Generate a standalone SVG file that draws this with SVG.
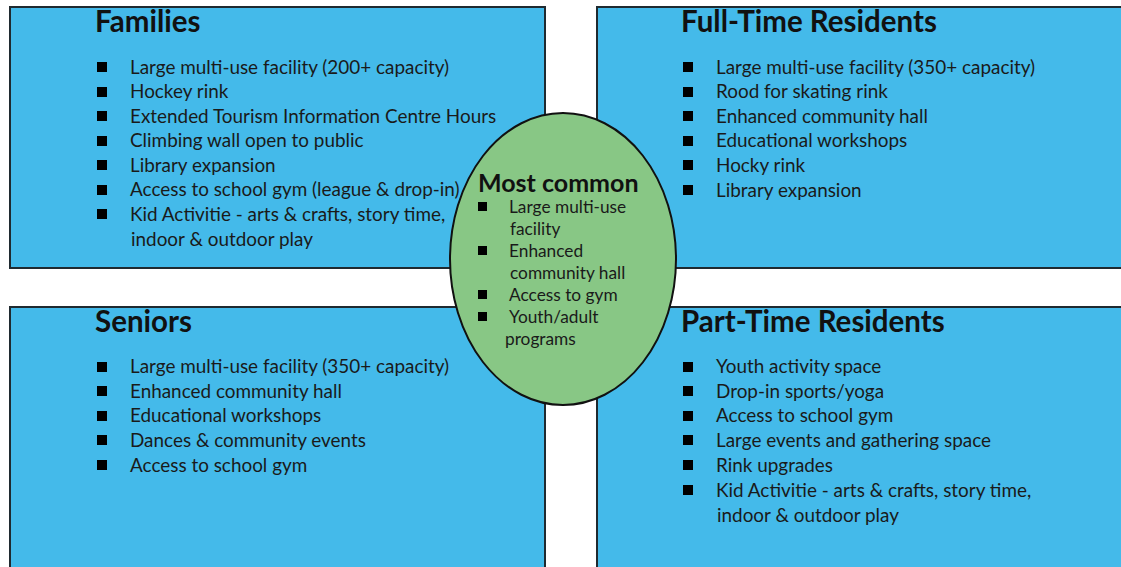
<svg xmlns="http://www.w3.org/2000/svg" width="1121" height="567" viewBox="0 0 1121 567">
<style>
.box{fill:#44BAEA;stroke:#1f2a30;stroke-width:2}
.ell{fill:#88C785;stroke:#111;stroke-width:2}
.t{font-family:Lato,"Liberation Sans",sans-serif;font-size:18.9px;fill:#1a1a1a}
.h{font-family:Lato,"Liberation Sans",sans-serif;font-size:29.5px;font-weight:bold;fill:#111}
.hs{font-family:Lato,"Liberation Sans",sans-serif;font-size:25px;font-weight:bold;fill:#111}
.ts{font-family:Lato,"Liberation Sans",sans-serif;font-size:17.3px;fill:#1a1a1a}
.b{fill:#000}
</style>
<rect width="1121" height="567" fill="#fff"/>
<g id="families">
<rect class="box" x="10" y="7" width="535" height="261"/>
<text class="h" x="95" y="32">Families</text>
<g class="b"><rect x="97" y="62" width="10" height="10"/><rect x="97" y="87" width="10" height="10"/><rect x="97" y="111" width="10" height="10"/><rect x="97" y="136" width="10" height="10"/><rect x="97" y="160" width="10" height="10"/><rect x="97" y="185" width="10" height="10"/><rect x="97" y="209" width="10" height="10"/></g>
<text class="t" x="130" y="74">Large multi-use facility (200+ capacity)</text>
<text class="t" x="130" y="98">Hockey rink</text>
<text class="t" x="130" y="123">Extended Tourism Information Centre Hours</text>
<text class="t" x="130" y="147">Climbing wall open to public</text>
<text class="t" x="130" y="172">Library expansion</text>
<text class="t" x="130" y="196">Access to school gym (league &amp; drop-in)</text>
<text class="t" x="130" y="221">Kid Activitie - arts &amp; crafts, story time,</text>
<text class="t" x="131" y="246">indoor &amp; outdoor play</text>
</g>
<g id="full-time">
<rect class="box" x="597" y="7" width="530" height="261"/>
<text class="h" x="681" y="32">Full-Time Residents</text>
<g class="b"><rect x="683" y="62" width="10" height="10"/><rect x="683" y="87" width="10" height="10"/><rect x="683" y="111" width="10" height="10"/><rect x="683" y="136" width="10" height="10"/><rect x="683" y="160" width="10" height="10"/><rect x="683" y="185" width="10" height="10"/></g>
<text class="t" x="716" y="74">Large multi-use facility (350+ capacity)</text>
<text class="t" x="716" y="98">Rood for skating rink</text>
<text class="t" x="716" y="123">Enhanced community hall</text>
<text class="t" x="716" y="147">Educational workshops</text>
<text class="t" x="716" y="172">Hocky rink</text>
<text class="t" x="716" y="197">Library expansion</text>
</g>
<g id="seniors">
<rect class="box" x="10" y="307" width="535" height="270"/>
<text class="h" x="95" y="332">Seniors</text>
<g class="b"><rect x="97" y="362" width="10" height="10"/><rect x="97" y="386" width="10" height="10"/><rect x="97" y="411" width="10" height="10"/><rect x="97" y="435" width="10" height="10"/><rect x="97" y="460" width="10" height="10"/></g>
<text class="t" x="130" y="373">Large multi-use facility (350+ capacity)</text>
<text class="t" x="130" y="398">Enhanced community hall</text>
<text class="t" x="130" y="422">Educational workshops</text>
<text class="t" x="130" y="447">Dances &amp; community events</text>
<text class="t" x="130" y="472">Access to school gym</text>
</g>
<g id="part-time">
<rect class="box" x="597" y="307" width="530" height="270"/>
<text class="h" x="681" y="332">Part-Time Residents</text>
<g class="b"><rect x="683" y="362" width="10" height="10"/><rect x="683" y="386" width="10" height="10"/><rect x="683" y="411" width="10" height="10"/><rect x="683" y="435" width="10" height="10"/><rect x="683" y="460" width="10" height="10"/><rect x="683" y="485" width="10" height="10"/></g>
<text class="t" x="716" y="373">Youth activity space</text>
<text class="t" x="716" y="398">Drop-in sports/yoga</text>
<text class="t" x="716" y="422">Access to school gym</text>
<text class="t" x="716" y="447">Large events and gathering space</text>
<text class="t" x="716" y="472">Rink upgrades</text>
<text class="t" x="716" y="497">Kid Activitie - arts &amp; crafts, story time,</text>
<text class="t" x="717" y="522">indoor &amp; outdoor play</text>
</g>
<g id="most-common">
<ellipse class="ell" cx="563" cy="259" rx="113" ry="146"/>
<text class="hs" x="478" y="192">Most common</text>
<g class="b"><rect x="478" y="202" width="9" height="9"/><rect x="478" y="246" width="9" height="9"/><rect x="478" y="290" width="9" height="9"/><rect x="478" y="312" width="9" height="9"/></g>
<text class="ts" x="509" y="213">Large multi-use</text>
<text class="ts" x="510" y="235">facility</text>
<text class="ts" x="509" y="257">Enhanced</text>
<text class="ts" x="510" y="279">community hall</text>
<text class="ts" x="509" y="301">Access to gym</text>
<text class="ts" x="509" y="323">Youth/adult</text>
<text class="ts" x="505" y="345">programs</text>
</g>
<g id="connectors"/>
</svg>
